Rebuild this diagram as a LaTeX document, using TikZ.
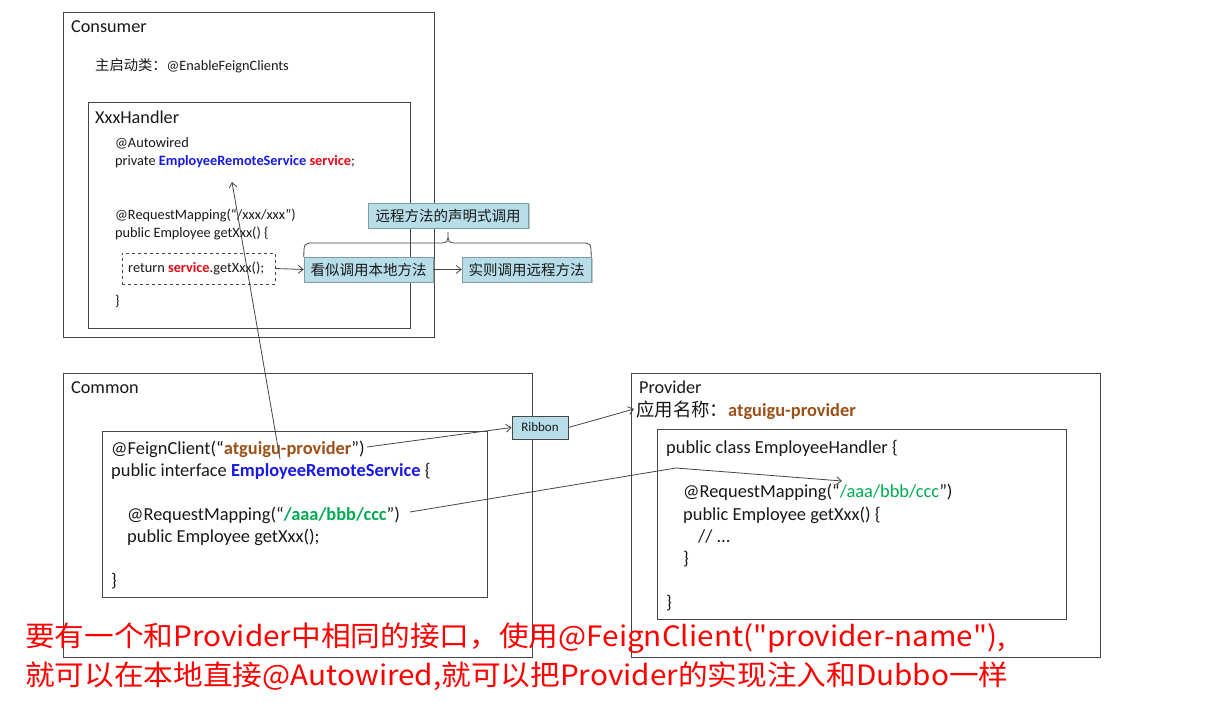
\documentclass[tikz,border=0pt]{standalone}
\usepackage{fontspec}
\setmainfont{Carlito}
\newfontfamily\cjk{Noto Sans CJK SC}
\usetikzlibrary{arrows.meta,shadows}
\definecolor{cblue}{RGB}{25,25,230}
\definecolor{cred}{RGB}{232,10,20}
\definecolor{cbrown}{RGB}{156,80,24}
\definecolor{cgreen}{RGB}{0,170,80}
\definecolor{lblue}{RGB}{183,221,232}
\definecolor{edge}{RGB}{70,70,70}
\definecolor{ink}{RGB}{25,25,25}
\definecolor{bigred}{RGB}{255,0,0}
\tikzset{
  box/.style={draw=edge, line width=0.9pt, anchor=north west, inner sep=0pt},
  txt/.style={anchor=base west, inner sep=0pt, text=ink},
  title/.style={txt, font=\fontsize{18.2}{22}\selectfont},
  small/.style={txt, font=\fontsize{14.3}{17}\selectfont},
  code/.style={txt, font=\fontsize{18.4}{22}\selectfont},
  tag/.style={fill=lblue, draw=lblue!70!black, line width=0.4pt, inner sep=0pt,
     font=\cjk\fontsize{14.5}{17}\selectfont, text=ink,
     drop shadow={shadow xshift=1.5pt, shadow yshift=-1.5pt, fill=black!45, opacity=0.5}},
  conn/.style={draw=edge, line width=0.8pt, -{Straight Barb[length=5pt,width=8pt]}},
  plain/.style={draw=edge, line width=0.8pt},
  note/.style={anchor=base west, inner sep=0pt, text=bigred, font=\cjk\fontsize{28}{32}\selectfont,
     xscale=1.06, transform shape}
}
\begin{document}
\begin{tikzpicture}[x=1pt,y=-1pt]
\useasboundingbox[fill=white] (0,0) rectangle (1232,711);

% ---------- Consumer ----------
\node[box, minimum width=371pt, minimum height=325pt] (consumer) at (63,12) {};
\node[title] (consumerT) at (71,33) {Consumer};
\node[small] (enable) at (95,71) {{\cjk 主启动类：}@EnableFeignClients};
\node[box, minimum width=322pt, minimum height=226pt] (handler) at (88,102) {};
\node[title] (handlerT) at (95,124) {XxxHandler};
\node[small] (autow) at (115,148) {@Autowired};
\node[small] (priv) at (115,166) {private {\bfseries\color{cblue}EmployeeRemoteService} {\bfseries\color{cred}service};};
\node[small] (rmx) at (115,220) {@RequestMapping(“/xxx/xxx”)};
\node[small] (pubx) at (115,238) {public Employee getXxx() \{};
\node[draw=edge, dashed, line width=0.7pt, minimum width=153pt, minimum height=31pt, inner sep=0pt] (ret) at (198.5,268.5) {};
\node[small] (retT) at (128,273) {return {\bfseries\color{cred}service}.getXxx();};
\node[small] (closex) at (115,306) {\}};

% ---------- labels ----------
\node[tag, minimum width=160pt, minimum height=25pt] (decl) at (448,215.5) {远程方法的声明式调用};
\node[tag, minimum width=129pt, minimum height=25pt] (local) at (368.5,269.5) {看似调用本地方法};
\node[tag, minimum width=129pt, minimum height=25pt] (remote) at (526.5,269.5) {实则调用远程方法};
\draw[plain] (local.north west) .. controls (304,243) .. (314,243) -- (438,243)
   .. controls (448,243) .. (448,232) .. controls (448,243) .. (458,243)
   -- (581,243) .. controls (591,243) .. (remote.north east);
\draw[conn] (ret.east) -- (local.west);
\draw[conn] (local.east) -- (remote.west);

% ---------- Common ----------
\node[box, minimum width=469pt, minimum height=284pt] (common) at (63,373) {};
\node[title] (commonT) at (71,393) {Common};
\node[box, minimum width=385pt, minimum height=166pt] (iface) at (102,431) {};
\node[code] (feign) at (111,454) {@FeignClient(“{\bfseries\color{cbrown}atguigu-provider}”)};
\node[code] (ifaceT) at (111,476) {public interface {\bfseries\color{cblue}EmployeeRemoteService} \{};
\node[code] (rma) at (127,520) {@RequestMapping(“{\bfseries\color{cgreen}/aaa/bbb/ccc}”)};
\node[code] (geta) at (127,542) {public Employee getXxx();};
\node[code] (closea) at (111,586) {\}};

% ---------- Ribbon ----------
\node[fill=lblue, draw=edge, line width=0.8pt, minimum width=56pt, minimum height=23pt, inner sep=0pt,
      font=\fontsize{13}{15}\selectfont, text=ink,
      drop shadow={shadow xshift=1.2pt, shadow yshift=-1.2pt, fill=black!45, opacity=0.5}] (ribbon) at (540,427.5) {Ribbon};

% ---------- Provider ----------
\node[box, minimum width=469pt, minimum height=284pt] (provider) at (631,373) {};
\node[title] (providerT) at (639,393) {Provider};
\node[code] (appname) at (636,416) {{\cjk 应用名称：}{\bfseries\color{cbrown}atguigu-provider}};
\node[box, minimum width=409pt, minimum height=190pt] (impl) at (657,429) {};
\node[code] (classT) at (666,453) {public class EmployeeHandler \{};
\node[code] (rmb) at (683,497) {@RequestMapping(“{\color{cgreen}/aaa/bbb/ccc}”)};
\node[code] (getb) at (683,520) {public Employee getXxx() \{};
\node[code] (dots) at (698,542) {// ...};
\node[code] (closeb1) at (683,564) {\}};
\node[code] (closeb2) at (666,608) {\}};

% ---------- connectors ----------
\coordinate (ifaceP) at (280,459);
\coordinate (svcP) at (232,182);
\draw[conn] (ifaceP) -- (svcP);
\coordinate (feignEnd) at (367,447);
\draw[conn] (feignEnd) -- (ribbon.west);
\coordinate (appIn) at (634,409);
\draw[conn] (ribbon.east) -- (appIn);
\coordinate (rmaEnd) at (410,512);
\coordinate (bend) at (676,468);
\coordinate (rmbP) at (842,481);
\draw[conn] (rmaEnd) -- (bend) -- (rmbP);

% ---------- note ----------
\node[note] (note1) at (25,646)
  {要有一个和Provider中相同的接口，使用@FeignClient("provider-name"),};
\node[note] (note2) at (25,685)
  {就可以在本地直接@Autowired,就可以把Provider的实现注入和Dubbo一样};
\end{tikzpicture}
\end{document}
